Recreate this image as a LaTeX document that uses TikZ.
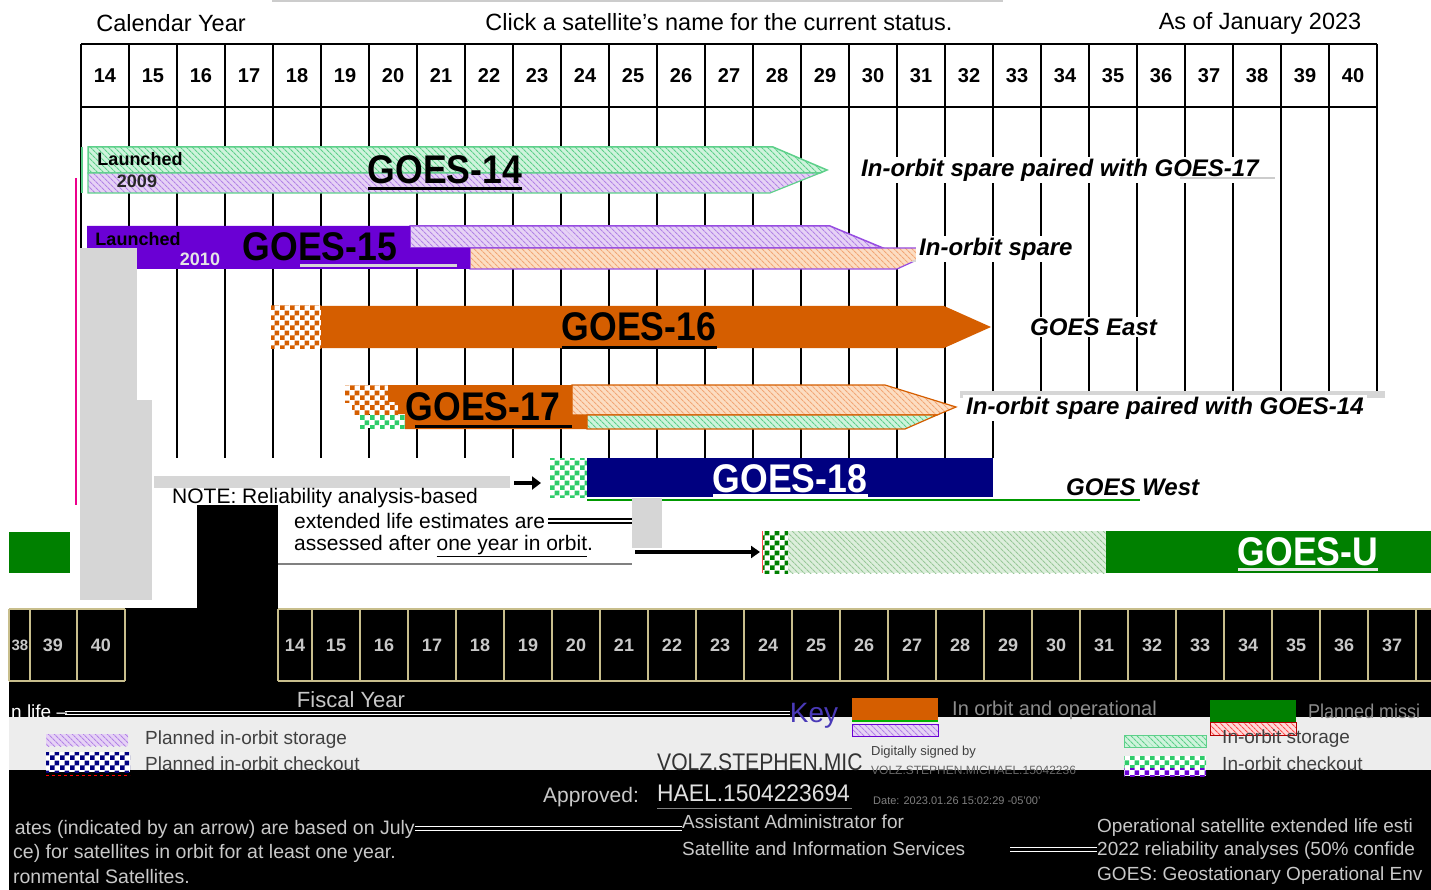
\documentclass[tikz,border=0pt]{standalone}
\usepackage{graphicx}
\usepackage{fontspec}
\setmainfont{Liberation Sans}
\usetikzlibrary{patterns,patterns.meta,arrows.meta}
\pgfdeclarepatternformonly{bigchk}{\pgfpointorigin}{\pgfqpoint{10pt}{10pt}}{\pgfqpoint{10pt}{10pt}}{%
  \pgfpathrectangle{\pgfpointorigin}{\pgfqpoint{5pt}{5pt}}%
  \pgfpathrectangle{\pgfqpoint{5pt}{5pt}}{\pgfqpoint{5pt}{5pt}}%
  \pgfusepath{fill}}
\definecolor{gorange}{HTML}{D55E00}
\definecolor{gpurple}{HTML}{6A00D4}
\definecolor{gnavy}{HTML}{000080}
\definecolor{ggreen}{HTML}{008000}
\definecolor{gchkgreen}{HTML}{2ECC6A}
\definecolor{hgreenbg}{HTML}{CFF3DC}
\definecolor{hgreenln}{HTML}{5DD08A}
\definecolor{hlavbg}{HTML}{E6D2F5}
\definecolor{hlavln}{HTML}{B283E6}
\definecolor{hpeachbg}{HTML}{FCDDC2}
\definecolor{hpeachln}{HTML}{F2A676}
\definecolor{hubg}{HTML}{DDEEDC}
\definecolor{huln}{HTML}{98C898}
\definecolor{ggray}{HTML}{D6D6D6}
\definecolor{bandgray}{HTML}{EDEDED}
\definecolor{dimtext}{HTML}{C8C8C8}
\definecolor{cellline}{HTML}{C8BE8C}
\definecolor{keyblue}{HTML}{4A3AB8}
\newcommand{\narrowtxt}[1]{\scalebox{0.89}[1]{#1}}
\tikzset{
  every node/.style={inner sep=0pt},
  toplbl/.style={font=\fontsize{23.5}{28}\selectfont},
  yearnum/.style={font=\bfseries\fontsize{20}{24}\selectfont},
  satname/.style={font=\bfseries\fontsize{40}{46}\selectfont, anchor=base},
  status/.style={font=\bfseries\itshape\fontsize{24}{28}\selectfont, anchor=west, fill=white, inner xsep=3pt, inner ysep=2pt},
  launch/.style={font=\bfseries\fontsize{18}{22}\selectfont},
  gridln/.style={line width=1.6pt, black},
  notetxt/.style={font=\fontsize{21}{25}\selectfont, anchor=west},
  fyline/.style={cellline, line width=1.2pt},
  fynum/.style={font=\bfseries\fontsize{18}{22}\selectfont, text=dimtext},
  keytxt/.style={font=\fontsize{19}{23}\selectfont, text=black!75, anchor=west},
  darktxt/.style={font=\fontsize{19}{23}\selectfont, text=dimtext},
  foottxt/.style={font=\fontsize{19.5}{23}\selectfont, text=dimtext},
  hgreen/.style={preaction={fill=hgreenbg}, pattern={Lines[angle=-45,distance=4pt,line width=1.2pt]}, pattern color=hgreenln},
  hlav/.style={preaction={fill=hlavbg}, pattern={Lines[angle=-45,distance=4pt,line width=1.2pt]}, pattern color=hlavln},
  hpeach/.style={preaction={fill=hpeachbg}, pattern={Lines[angle=-45,distance=4pt,line width=1.2pt]}, pattern color=hpeachln},
  hu/.style={preaction={fill=hubg}, pattern={Lines[angle=-45,distance=4pt,line width=1.2pt]}, pattern color=huln},
  hred/.style={preaction={fill=red!15}, pattern={Lines[angle=-45,distance=4pt,line width=1.2pt]}, pattern color=red!70},
  chk/.style={preaction={fill=white}, pattern=bigchk, pattern color=#1},
}
\begin{document}
\begin{tikzpicture}[x=1pt,y=-1pt]
\useasboundingbox (0,0) rectangle (1431,890);
\fill[white] (0,0) rectangle (1431,890);
\draw[gray!40, line width=2pt] (272,1) -- (1003,1);

% ---------- titles ----------
\node[toplbl] (caly) at (171,23) {Calendar Year};
\node[toplbl] (click) at (719,22) {Click a satellite’s name for the current status.};
\node[toplbl] (asof) at (1260,23) {As of January 2023};

% ---------- grid ----------
\foreach \k in {0,...,27}{
  \pgfmathsetmacro{\xx}{81+48*\k}
  \ifnum\k<20
    \draw[gridln] (\xx,44) -- (\xx,458);
  \else
    \draw[gridln] (\xx,44) -- (\xx,393);
  \fi
}
\draw[gridln] (81,44) -- (1377,44);
\draw[gridln] (81,107) -- (1377,107);
\foreach \n [count=\i from 0] in {14,...,40}
  \node[yearnum] (cy\n) at ({105+48*\i},76) {\n};

\draw[magenta, line width=1.5pt] (76,178) -- (76,505);

% ---------- GOES-14 ----------
\path[hgreen, draw=hgreenln, line width=1.5pt] (88,147) -- (773,147) -- (827,170) -- (820,173) -- (88,173) -- cycle;
\path[hlav, draw=hgreenln, line width=1.2pt] (88,173) -- (820,173) -- (770,193) -- (88,193) -- cycle;
\draw[hgreenln, line width=1.5pt] (82,147) -- (82,193);
\node[launch] (l14) at (140,159) {Launched};
\node[launch, text=black!85] (y14) at (137,181) {2009};
\node[satname] (g14) at (445,184) {\narrowtxt{GOES-14}};
\draw[line width=3pt] (368,189) -- (522,189);
\node[status] (s14) at (858,170) {In-orbit spare paired with GOES-17};
\draw[gray!40, line width=1.5pt] (1180,178) -- (1275,178);

% ---------- GOES-15 ----------
\path[hlav, draw=gpurple!70, line width=1.5pt] (410,226) -- (830,226) -- (883,248) -- (410,248) -- cycle;
\path[hpeach, draw=gpurple!70, line width=1.2pt] (470,248) -- (943,248) -- (897,269) -- (470,269) -- cycle;
\fill[ggray] (943,248) -- (955,248) -- (955,262) -- (910,262) -- cycle;
\fill[gpurple] (87,226) -- (410,226) -- (410,248) -- (470,248) -- (470,269) -- (87,269) -- cycle;
\fill[ggray] (80,248) rectangle (137,600);
\fill[ggray] (137,400) rectangle (152,600);
\node[launch] (l15) at (138,239) {Launched};
\node[launch, text=black!10] (y15) at (200,259) {2010};
\node[satname] (g15) at (320,261) {\narrowtxt{GOES-15}};
\draw[ggray, line width=3pt] (300,266) -- (457,266);
\node[status] (s15) at (916,249) {In-orbit spare};

% ---------- GOES-16 ----------
\path[chk=gorange] (271,306) rectangle (321,348);
\fill[gorange] (321,306) -- (944,306) -- (991,327) -- (944,348) -- (321,348) -- cycle;
\node[satname] (g16) at (639,341) {\narrowtxt{GOES-16}};
\draw[line width=3pt] (562,347) -- (717,347);
\node[status] (s16) at (1027,327) {GOES East};

% ---------- GOES-17 ----------
\path[hpeach, draw=gorange, line width=1.2pt] (572,385) -- (885,385) -- (956,407) -- (937,415) -- (572,415) -- cycle;
\path[hgreen, draw=gorange, line width=1.2pt] (587,415) -- (937,415) -- (905,429) -- (587,429) -- cycle;
\fill[gorange] (388,385) -- (572,385) -- (572,415) -- (587,415) -- (587,429) -- (405,429) -- (405,414) -- (398,414) -- (398,402) -- (388,402) -- cycle;
\path[chk=gorange] (345,385) rectangle (388,402);
\path[chk=gorange] (352,402) rectangle (398,414);
\path[chk=gchkgreen] (360,415) rectangle (405,428);
\node[satname] (g17) at (483,420) {\narrowtxt{GOES-17}};
\draw[line width=3pt] (415,426) -- (572,426);
\fill[ggray] (960,391) rectangle (1385,398);
\node[status] (s17) at (963,408) {In-orbit spare paired with GOES-14};

% ---------- GOES-18 ----------
\path[chk=gchkgreen] (550,458) rectangle (587,497);
\fill[gnavy] (587,458) rectangle (993,497);
\node[satname, text=white] (g18) at (790,492) {\narrowtxt{GOES-18}};
\draw[white, line width=3pt] (713,495) -- (868,495);
\draw[green!60!black, line width=1.5pt] (587,500) -- (1140,500);
\node[status, fill=none] (s18) at (1063,487) {GOES West};

% ---------- note ----------
\fill[ggray] (154,476) rectangle (510,488);
\coordinate (na1) at (514,483);
\coordinate (na2) at (541,483);
\draw[line width=4pt, -{Triangle[length=9pt,width=13pt]}] (na1) -- (na2);
\fill[black] (197,505) rectangle (278,608);
\node[notetxt] (n1) at (172,498) {NOTE: Reliability analysis-based};
\node[notetxt] (n2) at (294,521) {extended life estimates are};
\node[notetxt] (n3) at (294,546) {assessed after \underline{one year in orbit}.};
\draw[gray, line width=1.2pt] (278,564) -- (632,564);
\draw[line width=1.5pt] (548,519) -- (632,519);
\draw[line width=1.5pt] (548,523) -- (632,523);
\fill[ggray] (632,498) rectangle (662,548);

% ---------- GOES-U ----------
\fill[ggreen] (9,532) rectangle (70,573);
\path[chk=ggreen] (762,531) rectangle (788,573);
\path[hu] (788,531) rectangle (1106,573);
\fill[ggreen] (1106,531) rectangle (1431,573);
\draw[red!70, line width=1pt] (762,531) -- (762,573);
\node[satname, text=white] (gu) at (1308,565) {\narrowtxt{GOES-U}};
\draw[black!10, line width=3pt] (1238,569) -- (1378,569);
\coordinate (ua1) at (635,552);
\coordinate (ua2) at (760,552);
\draw[line width=4pt, -{Triangle[length=9pt,width=12pt]}] (ua1) -- (ua2);

% ---------- lower (black) region ----------
\fill[black] (9,608) rectangle (1431,890);
% fiscal year row
\draw[fyline] (9,609) -- (125,609);
\draw[fyline] (9,681) -- (125,681);
\foreach \xx in {9,30,77,125} \draw[fyline] (\xx,609) -- (\xx,681);
\node[fynum, font=\bfseries\fontsize{15}{18}\selectfont] (fy38l) at (20,645) {38};
\node[fynum] (fy39l) at (53,645) {39};
\node[fynum] (fy40l) at (101,645) {40};
\draw[fyline] (278,609) -- (1431,609);
\draw[fyline] (278,681) -- (1431,681);
\draw[fyline] (278,609) -- (278,681);
\foreach \k in {0,...,23} \draw[fyline] ({312+48*\k},609) -- ({312+48*\k},681);
\node[fynum] (fy14) at (295,645) {14};
\foreach \n [count=\i from 0] in {15,...,37}
  \node[fynum] (fy\n) at ({336+48*\i},645) {\n};
\node[darktxt, font=\fontsize{22}{26}\selectfont] (fisc) at (351,700) {Fiscal Year};

% key row
\node[darktxt, anchor=west, text=white] (nlife) at (11,712) {n life –};
\draw[white, line width=1pt] (65,711) -- (790,711);
\draw[white, line width=1pt] (65,714) -- (790,714);
\fill[bandgray] (9,717) rectangle (1431,770);
\node[font=\fontsize{28}{32}\selectfont, text=keyblue] (key) at (814,716) {Key};
\fill[gorange] (852,698) rectangle (938,720);
\draw[green!70!black, line width=1.5pt] (852,721) -- (938,721);
\path[hlav, draw=gpurple] (852,724) rectangle (938,736);
\node[darktxt, anchor=west, text=black!45, font=\fontsize{20}{24}\selectfont] (kop) at (952,710) {In orbit and operational};
\fill[ggreen] (1210,700) rectangle (1296,722);
\path[hred, draw=red!70!black] (1210,722) rectangle (1296,735);
\node[darktxt, anchor=west, text=black!45, font=\fontsize{20}{24}\selectfont] (kpl) at (1308,711) {\scalebox{0.9}[1]{Planned missi}};

\path[hlav] (46,734) rectangle (128,746);
\node[keytxt] (kpis) at (145,740) {Planned in-orbit storage};
\path[chk=gnavy] (46,752) rectangle (130,772);
\draw[red, dashed, line width=1pt] (46,775) -- (130,775);
\node[keytxt] (kpic) at (145,764) {Planned in-orbit checkout};

\path[hgreen, draw=hgreenln] (1124,735) rectangle (1206,747);
\node[keytxt] (kis) at (1222,739) {In-orbit storage};
\path[chk=gchkgreen] (1124,756) rectangle (1206,768);
\path[chk=gpurple] (1124,768) rectangle (1206,776);
\node[keytxt] (kic) at (1222,764) {In-orbit checkout};

% signature
\node[anchor=west, font=\fontsize{24}{28}\selectfont, text=black!80] (sig1) at (657,762) {\scalebox{0.88}[1]{VOLZ.STEPHEN.MIC}};
\node[anchor=west, font=\fontsize{13}{15}\selectfont, text=black!75] (dsb) at (871,752) {Digitally signed by};
\node[anchor=west, font=\fontsize{12}{14}\selectfont, text=black!60] (dsn) at (871,770) {VOLZ.STEPHEN.MICHAEL.15042236};
\node[darktxt, font=\fontsize{21}{25}\selectfont] (appr) at (591,797) {Approved:};
\node[anchor=west, font=\fontsize{24}{28}\selectfont, text=black!12] (sig2) at (657,793) {\scalebox{0.95}[1]{HAEL.1504223694}};
\draw[gray, line width=1pt] (657,808) -- (852,808);
\node[anchor=west, font=\fontsize{11}{13}\selectfont, text=gray] (sdate) at (873,801) {Date: 2023.01.26 15:02:29 -05'00'};
\node[darktxt, anchor=west] (aa1) at (682,822) {Assistant Administrator for};
\node[darktxt, anchor=west] (aa2) at (682,849) {Satellite and Information Services};

% footnote
\draw[white, line width=1pt] (415,826) -- (682,826);
\draw[white, line width=1pt] (415,830) -- (682,830);
\draw[white, line width=1pt] (1010,847) -- (1097,847);
\draw[white, line width=1pt] (1010,851) -- (1097,851);
\node[foottxt, anchor=east] (fl1) at (415,829) {ates (indicated by an arrow) are based on July};
\node[foottxt, anchor=east] (fl2) at (396,853) {ce) for satellites in orbit for at least one year.};
\node[foottxt, anchor=east] (fl3) at (190,877) {ronmental Satellites.};
\node[darktxt, anchor=west] (fr1) at (1097,828) {Operational satellite extended life esti};
\node[darktxt, anchor=west] (fr2) at (1097,851) {2022 reliability analyses (50\% confide};
\node[darktxt, anchor=west] (fr3) at (1097,876) {GOES: Geostationary Operational Env};
\end{tikzpicture}
\end{document}
